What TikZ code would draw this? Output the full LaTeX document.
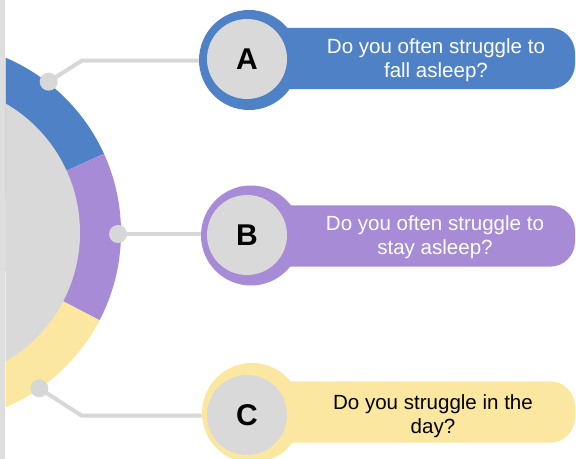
\documentclass[tikz,border=0pt]{standalone}
\usepackage{fontspec}
\setmainfont{Liberation Sans}
\definecolor{blueC}{RGB}{79,129,198}
\definecolor{purpleC}{RGB}{167,139,214}
\definecolor{yellowC}{RGB}{251,231,160}
\definecolor{grayC}{RGB}{217,217,217}
\definecolor{lineC}{RGB}{215,215,215}
\definecolor{stripC}{RGB}{222,222,222}
\begin{document}
\begin{tikzpicture}[x=0.75pt,y=-0.75pt,
  ringout/.style={circle,inner sep=0pt,minimum size=75pt},
  ringin/.style={circle,inner sep=0pt,minimum size=60pt,fill=grayC,font=\fontsize{22.5}{26}\selectfont\bfseries},
  banner/.style={rectangle,rounded corners=18.75pt,inner sep=0pt,minimum width=251.25pt,minimum height=46pt},
  qtext/.style={align=center,font=\fontsize{15.4}{18}\selectfont,inner sep=0pt},
  dotS/.style={circle,fill=lineC,inner sep=0pt,minimum size=13.5pt},
  conn/.style={draw=lineC,line width=3pt,line join=round}
]
\useasboundingbox (0,0) rectangle (576,459);
\fill[white] (0,0) rectangle (576,459);
\fill[stripC] (0.5,0) rectangle (5,459);
\coordinate (C0) at (-69,232.5);
\begin{scope}
  \clip (5.5,0) rectangle (576,459);
  \clip (C0) circle[radius=190];
  \fill[blueC] (C0) -- +(-24.5:400) -- +(-90:400) -- +(-180:400) -- cycle;
  \fill[purpleC] (C0) -- +(-24.5:400) -- +(0:400) -- +(27.5:400) -- cycle;
  \fill[yellowC] (C0) -- +(27.5:400) -- +(90:400) -- +(180:400) -- cycle;
  \fill[grayC] (C0) circle[radius=149];
\end{scope}

% banners
\node[banner,fill=blueC] (bA) at (407.5,58.5) {};
\node[banner,fill=purpleC] (bB) at (407.5,236) {};
\node[banner,fill=yellowC] (bC) at (407.5,412) {};

% letter circles
\node[ringout,fill=blueC] (ringA) at (249,60) {};
\node[ringin] (A) at (247,59) {A};
\node[ringout,fill=purpleC] (ringB) at (251,235.5) {};
\node[ringin] (B) at (247,235) {B};
\node[ringout,fill=yellowC] (ringC) at (252,413) {};
\node[ringin] (C) at (247,415) {C};

% dots and connectors
\node[dotS] (dA) at (48.7,81.7) {};
\node[dotS] (dB) at (118,234) {};
\node[dotS] (dC) at (39.3,388.3) {};
\coordinate (kA) at (81.7,60.7);
\coordinate (kC) at (81.7,415.7);
\draw[conn] (dA.center) -- (kA) -- (kA -| ringA.west);
\draw[conn] (dB.center) -- (dB.center -| ringB.west);
\draw[conn] (dC.center) -- (kC) -- (kC -| ringC.west);

% texts
\node[qtext,text=white] (tA) at (436,60) {Do you often struggle to\\fall asleep?};
\node[qtext,text=white] (tB) at (435,237.5) {Do you often struggle to\\stay asleep?};
\node[qtext,text=black] (tC) at (433,416) {Do you struggle in the\\day?};
\end{tikzpicture}
\end{document}
